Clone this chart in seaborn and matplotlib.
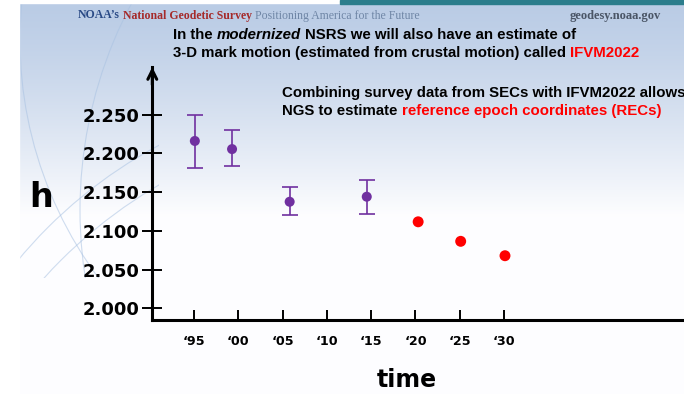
import numpy as np
import matplotlib
matplotlib.use("Agg")
import matplotlib.pyplot as plt
from matplotlib.patches import Rectangle, Arc
import seaborn as sns

# ---- data ----
obs_year = [1995.1, 1999.3, 2005.8, 2014.5]
obs_h = [2.216, 2.2055, 2.1375, 2.144]
obs_low = [2.181, 2.184, 2.120, 2.122]
obs_high = [2.250, 2.230, 2.1565, 2.165]
rec_year = [2020.3, 2025.1, 2030.1]
rec_h = [2.1116, 2.0864, 2.0678]
x_ticks = [1995, 2000, 2005, 2010, 2015, 2020, 2025, 2030]
x_labels = ["‘95", "‘00", "‘05", "‘10", "‘15", "‘20", "‘25", "‘30"]
y_ticks = [2.000, 2.050, 2.100, 2.150, 2.200, 2.250]

sns.set_theme(style="white")
plt.rcParams["font.family"] = ["DejaVu Sans"]

W, H = 684, 394
fig = plt.figure(figsize=(W / 100, H / 100), dpi=100)
fig.patch.set_facecolor("white")

# ---- slide background ----
bg = fig.add_axes([0, 0, 1, 1], zorder=0)
bg.set_xlim(0, W)
bg.set_ylim(H, 0)
bg.axis("off")
yy = np.linspace(0, 1, 400)[:, None]
top = np.array([0.73, 0.80, 0.90])
white = np.array([0.995, 0.995, 1.0])
t = np.clip(yy * H / 215.0, 0, 1) ** 1.3
grad = top[None, None, :] * (1 - t[..., None]) + white[None, None, :] * t[..., None]
grad = np.repeat(grad, 2, axis=1)
bg.imshow(grad, extent=(19, W, H, 3), aspect="auto", zorder=0)
clip = Rectangle((19, 3), 140, 275, transform=bg.transData, facecolor="none", edgecolor="none")
bg.add_patch(clip)
for (cx, cy, r) in [(400, 600, 480), (380, 560, 470), (520, 210, 440), (420, 40, 400)]:
    arc = Arc((cx, cy), 2 * r, 2 * r, theta1=0, theta2=360, color="#a9c2e2",
              lw=0.8, alpha=0.55, zorder=1)
    bg.add_patch(arc)
    arc.set_clip_path(clip)
bg.add_patch(Rectangle((0, 0), 19, H, color="white", zorder=1.5))
bg.add_patch(Rectangle((0, 0), W, 3, color="white", zorder=1.5))
bg.add_patch(Rectangle((340, 0), W - 340, 4, color="#2b7d8c", zorder=2))

# ---- main axes ----
ax_l, ax_b = 152.3 / W, 1 - 320 / H
ax = fig.add_axes([ax_l, ax_b, 1 - ax_l, (320 - 67) / H], zorder=2)
ax.patch.set_alpha(0)
ax.set_xlim(1990.3, 2050.3)
ax.set_ylim(1.9848, 2.3115)

purple = "#7030a0"
ax.errorbar(obs_year, obs_h,
            yerr=[np.array(obs_h) - np.array(obs_low), np.array(obs_high) - np.array(obs_h)],
            fmt="none", ecolor=purple, elinewidth=1.2, capsize=5.8, capthick=1.2, zorder=3)
sns.scatterplot(x=obs_year, y=obs_h, color=purple, s=52, edgecolor="none", ax=ax, zorder=4)
sns.scatterplot(x=rec_year, y=rec_h, color="#ff0000", s=62, edgecolor="none", ax=ax, zorder=4)

for s in ["top", "right"]:
    ax.spines[s].set_visible(False)
for s in ["left", "bottom"]:
    ax.spines[s].set_linewidth(2.2)
    ax.spines[s].set_color("black")
ax.spines["bottom"].set_capstyle("projecting")

ax.set_yticks(y_ticks)
ax.set_yticklabels([f"{v:.3f}" for v in y_ticks], fontsize=13, fontweight="bold")
ax.set_xticks(x_ticks)
ax.set_xticklabels(x_labels, fontsize=9.2, fontweight="bold")
ax.tick_params(axis="y", direction="inout", length=14, width=1.4, pad=2, colors="black", left=True)
ax.tick_params(axis="x", direction="in", length=7.5, width=1.4, pad=11, colors="black", bottom=True)
ax.set_xlabel("")
ax.set_ylabel("")
ax.grid(False)

ax.annotate("", xy=(0, 1.0), xytext=(0, 0.93), xycoords="axes fraction",
            arrowprops=dict(arrowstyle="->", lw=2.2, color="black", mutation_scale=16,
                            shrinkA=0, shrinkB=0), annotation_clip=False)

fig.text(41 / W, 1 - 207 / H, "h", fontsize=24, fontweight="bold", ha="center",
         va="baseline", color="black")
fig.text(407 / W, 1 - 387 / H, "time", fontsize=17, fontweight="bold", ha="center",
         va="baseline", color="black")

# ---- rich text helper ----
renderer = fig.canvas.get_renderer()


def rich(x_px, y_px, parts, **common):
    x = x_px
    for s, kw in parts:
        if s == " ":
            a = fig.text(0, 0, "x x", **common, **kw)
            b = fig.text(0, 0, "xx", **common, **kw)
            x += a.get_window_extent(renderer).width - b.get_window_extent(renderer).width
            a.remove()
            b.remove()
            continue
        txt = fig.text(x / W, 1 - y_px / H, s, ha="left", va="baseline", **common, **kw)
        x += txt.get_window_extent(renderer).width


sans = dict(family=["Liberation Sans", "DejaVu Sans"], fontsize=10.85)
blk = dict(color="black", fontweight="bold")
red = dict(color="#ff0000", fontweight="bold")
rich(173, 39, [("In the", blk), (" ", blk),
               ("modernized", dict(color="black", fontweight="bold", style="italic")),
               (" ", blk), ("NSRS we will also have an estimate of", blk)], **sans)
rich(173, 57, [("3-D mark motion (estimated from crustal motion) called", blk),
               (" ", blk), ("IFVM2022", red)], **sans)
rich(282, 97, [("Combining survey data from SECs with IFVM2022 allows", blk)], **sans)
rich(282, 115, [("NGS to estimate", blk), (" ", blk),
                ("reference epoch coordinates (RECs)", red)], **sans)

serif = dict(family=["Liberation Serif", "DejaVu Serif"], fontsize=8.5)
rich(78, 18.5, [("NOAA’s", dict(color="#2a4a86", fontweight="bold")), (" ", {}),
                ("National Geodetic Survey", dict(color="#a52a2a", fontweight="bold")),
                (" ", {}),
                ("Positioning America for the Future", dict(color="#6f86a6"))], **serif)
rich(570, 18.5, [("geodesy.noaa.gov", dict(color="#4a5566", fontweight="bold"))],
     family=["Liberation Serif", "DejaVu Serif"], fontsize=9)

fig.savefig("out.png", dpi=100)
